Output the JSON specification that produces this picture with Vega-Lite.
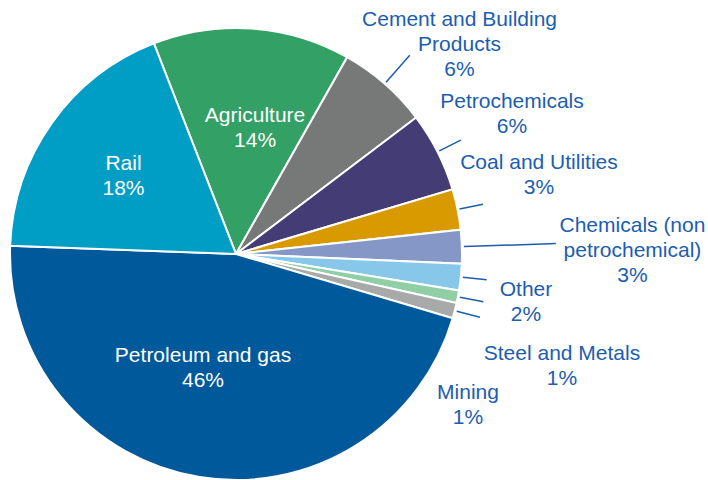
{
  "$schema": "https://vega.github.io/schema/vega-lite/v6.json",
  "width": 462,
  "height": 498,
  "autosize": "none",
  "padding": {"left": 5, "top": 5, "right": 241, "bottom": 0},
  "background": "white",
  "config": {"view": {"stroke": null}, "font": "Liberation Sans"},
  "data": {
    "values": [
      {"category": "Agriculture", "value": 14.1, "order": 1, "label": "Agriculture\n14%"},
      {"category": "Cement and Building Products", "value": 6.5, "order": 2, "label": "Cement and Building\nProducts\n6%"},
      {"category": "Petrochemicals", "value": 5.7, "order": 3, "label": "Petrochemicals\n6%"},
      {"category": "Coal and Utilities", "value": 2.9, "order": 4, "label": "Coal and Utilities\n3%"},
      {"category": "Chemicals (non petrochemical)", "value": 2.4, "order": 5, "label": "Chemicals (non\npetrochemical)\n3%"},
      {"category": "Other", "value": 1.9, "order": 6, "label": "Other\n2%"},
      {"category": "Steel and Metals", "value": 0.9, "order": 7, "label": "Steel and Metals\n1%"},
      {"category": "Mining", "value": 1.1, "order": 8, "label": "Mining\n1%"},
      {"category": "Petroleum and gas", "value": 46.0, "order": 9, "label": "Petroleum and gas\n46%"},
      {"category": "Rail", "value": 18.5, "order": 10, "label": "Rail\n18%"}
    ]
  },
  "encoding": {
    "theta": {"field": "value", "type": "quantitative", "stack": true, "scale": {"range": [-0.3718, 5.9114]}},
    "order": {"field": "order", "type": "quantitative"}
  },
  "layer": [
    {
      "mark": {"type": "arc", "radius": 226, "stroke": "white", "strokeWidth": 2},
      "encoding": {
        "color": {
          "field": "category", "type": "nominal", "legend": null,
          "scale": {
            "domain": ["Agriculture", "Cement and Building Products", "Petrochemicals", "Coal and Utilities", "Chemicals (non petrochemical)", "Other", "Steel and Metals", "Mining", "Petroleum and gas", "Rail"],
            "range": ["#33A165", "#777979", "#433C75", "#D99A00", "#8497C6", "#87C8EA", "#90CFA6", "#A8A9A9", "#00599A", "#009DC5"]
          }
        }
      }
    },
    {
      "mark": {"type": "arc", "radius": 252, "radius2": 228, "padAngle": 3, "fillOpacity": 0, "stroke": "#1B5DB0", "strokeWidth": 1.5},
      "encoding": {
        "strokeOpacity": {"condition": {"test": "indexof(['Petrochemicals','Coal and Utilities','Other','Steel and Metals','Mining'], datum.category) >= 0", "value": 1}, "value": 0}
      }
    },
    {
      "mark": {"type": "arc", "radius": 264, "radius2": 228, "padAngle": 3, "fillOpacity": 0, "stroke": "#1B5DB0", "strokeWidth": 1.5},
      "encoding": {
        "strokeOpacity": {"condition": {"test": "datum.category === 'Cement and Building Products'", "value": 1}, "value": 0}
      }
    },
    {
      "mark": {"type": "arc", "radius": 320, "radius2": 228, "padAngle": 3, "fillOpacity": 0, "stroke": "#1B5DB0", "strokeWidth": 1.5},
      "encoding": {
        "strokeOpacity": {"condition": {"test": "datum.category === 'Chemicals (non petrochemical)'", "value": 1}, "value": 0}
      }
    },
    {
      "mark": {"type": "text", "radius": 130, "dx": -6.5, "dy": -14.4, "fontSize": 21, "lineHeight": 25, "lineBreak": "\n", "align": "center", "baseline": "middle", "color": "white"},
      "encoding": {"text": {"condition": {"test": "datum.category === 'Rail'", "field": "label"}, "value": ""}}
    },
    {
      "mark": {"type": "text", "radius": 130, "dx": 9.8, "dy": -8.8, "fontSize": 21, "lineHeight": 25, "lineBreak": "\n", "align": "center", "baseline": "middle", "color": "white"},
      "encoding": {"text": {"condition": {"test": "datum.category === 'Agriculture'", "field": "label"}, "value": ""}}
    },
    {
      "mark": {"type": "text", "radius": 130, "dx": -12, "dy": -25.8, "fontSize": 21, "lineHeight": 25, "lineBreak": "\n", "align": "center", "baseline": "middle", "color": "white"},
      "encoding": {"text": {"condition": {"test": "datum.category === 'Petroleum and gas'", "field": "label"}, "value": ""}}
    },
    {
      "mark": {"type": "text", "radius": 250, "dx": 59, "dy": -45.3, "fontSize": 21, "lineHeight": 25, "lineBreak": "\n", "align": "center", "baseline": "middle", "color": "#1B5DB0"},
      "encoding": {"text": {"condition": {"test": "datum.category === 'Cement and Building Products'", "field": "label"}, "value": ""}}
    },
    {
      "mark": {"type": "text", "radius": 250, "dx": 53, "dy": -38.9, "fontSize": 21, "lineHeight": 25, "lineBreak": "\n", "align": "center", "baseline": "middle", "color": "#1B5DB0"},
      "encoding": {"text": {"condition": {"test": "datum.category === 'Petrochemicals'", "field": "label"}, "value": ""}}
    },
    {
      "mark": {"type": "text", "radius": 250, "dx": 57.9, "dy": -41.1, "fontSize": 21, "lineHeight": 25, "lineBreak": "\n", "align": "center", "baseline": "middle", "color": "#1B5DB0"},
      "encoding": {"text": {"condition": {"test": "datum.category === 'Coal and Utilities'", "field": "label"}, "value": ""}}
    },
    {
      "mark": {"type": "text", "radius": 250, "dx": 146.6, "dy": -20, "fontSize": 21, "lineHeight": 25, "lineBreak": "\n", "align": "center", "baseline": "middle", "color": "#1B5DB0"},
      "encoding": {"text": {"condition": {"test": "datum.category === 'Chemicals (non petrochemical)'", "field": "label"}, "value": ""}}
    },
    {
      "mark": {"type": "text", "radius": 250, "dx": 41.3, "dy": 10.5, "fontSize": 21, "lineHeight": 25, "lineBreak": "\n", "align": "center", "baseline": "middle", "color": "#1B5DB0"},
      "encoding": {"text": {"condition": {"test": "datum.category === 'Other'", "field": "label"}, "value": ""}}
    },
    {
      "mark": {"type": "text", "radius": 250, "dx": 80.5, "dy": 53.1, "fontSize": 21, "lineHeight": 25, "lineBreak": "\n", "align": "center", "baseline": "middle", "color": "#1B5DB0"},
      "encoding": {"text": {"condition": {"test": "datum.category === 'Steel and Metals'", "field": "label"}, "value": ""}}
    },
    {
      "mark": {"type": "text", "radius": 250, "dx": -10, "dy": 76.8, "fontSize": 21, "lineHeight": 25, "lineBreak": "\n", "align": "center", "baseline": "middle", "color": "#1B5DB0"},
      "encoding": {"text": {"condition": {"test": "datum.category === 'Mining'", "field": "label"}, "value": ""}}
    }
  ]
}
